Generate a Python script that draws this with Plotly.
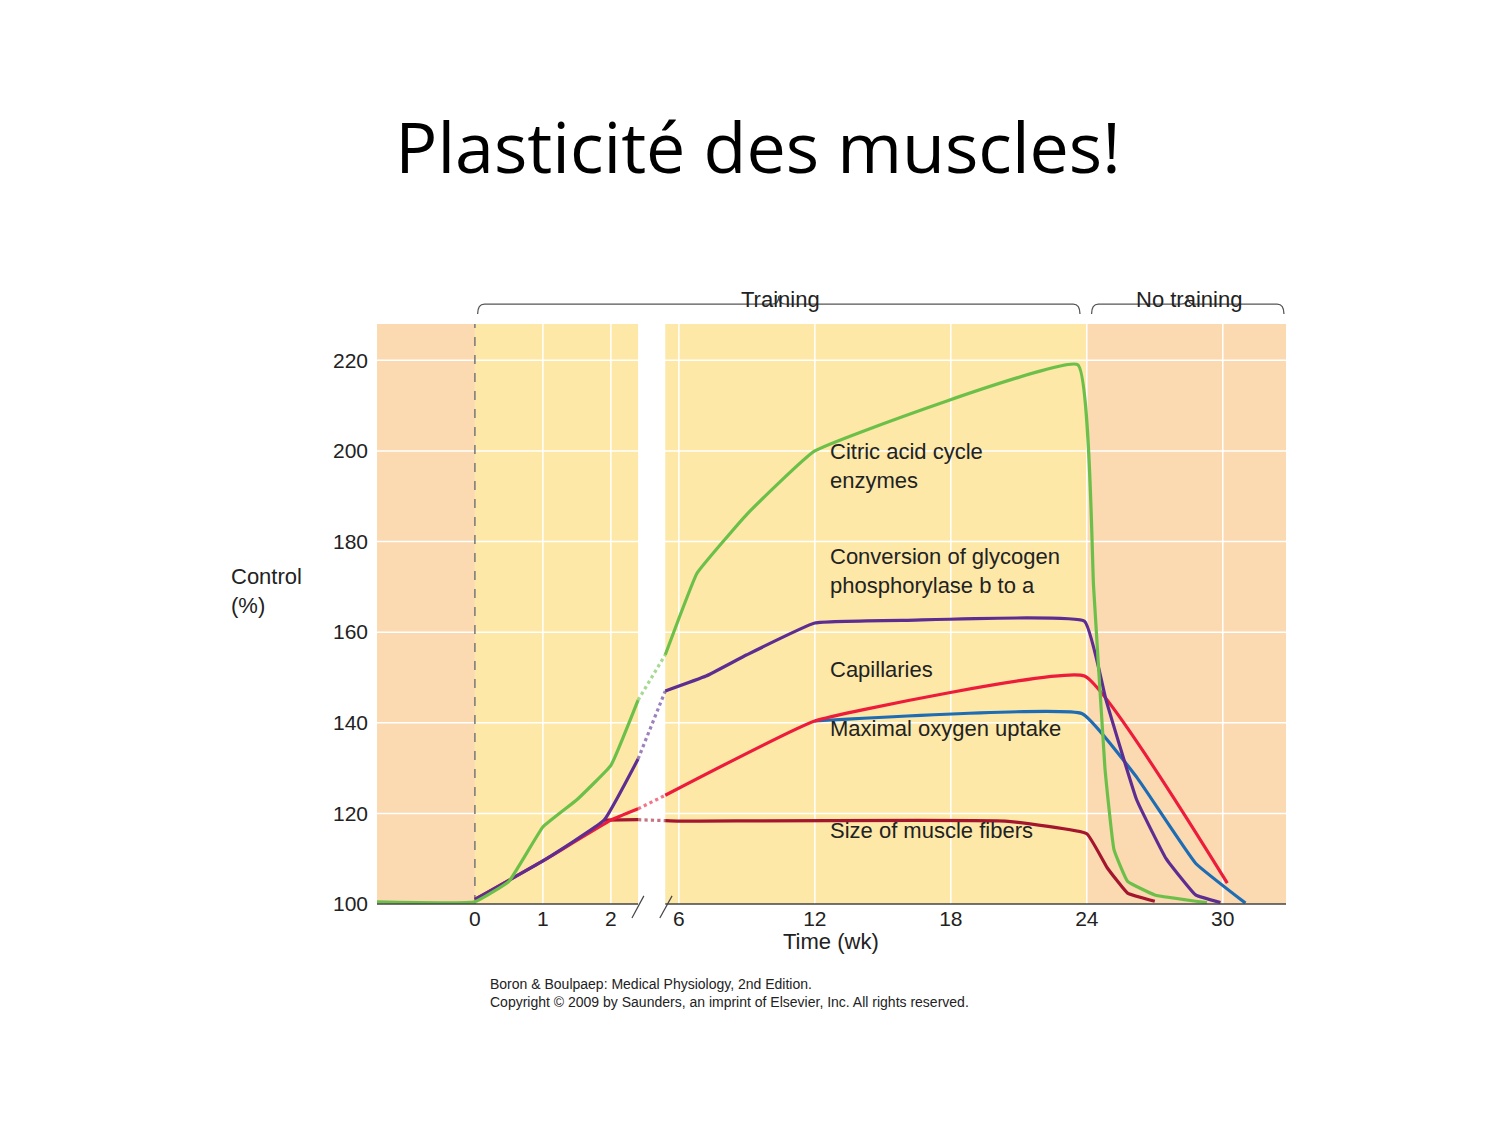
import plotly.graph_objects as go

# ---- data (weeks, % of control) ----
green_w = [-1.5, 0, 0.5, 1, 1.5, 2, 3.6, 5.2, 6, 6.8, 9, 12, 23.6, 24.3, 24.8, 25.2, 25.8, 27, 29.3]
green_y = [100.5, 100.5, 105, 117, 123, 130.6, 145, 155, 163, 173, 186, 200, 219, 170, 130, 112, 105, 102, 100.3]
purple_w = [0, 1, 1.9, 3.6, 5.2, 7.2, 9, 12, 16, 23.9, 24.85, 26.2, 27.5, 28.8, 29.9]
purple_y = [101, 109.5, 118.5, 132, 147, 150.3, 155, 162, 162.6, 162.4, 145, 123, 110, 102, 100.3]
red_w = [0, 1, 2, 3.6, 5.2, 12, 23.9, 30.2]
red_y = [101, 109.5, 118.5, 121, 124, 140.4, 150.3, 104.6]
blue_w = [12, 23.8, 26.2, 28.8, 31]
blue_y = [140.4, 142, 128, 109, 100.2]
dred_w = [1.9, 3.6, 5.2, 6, 20.4, 24, 24.9, 25.8, 27]
dred_y = [118.5, 118.6, 118.4, 118.3, 118.3, 115.5, 108, 102.4, 100.6]

tick_weeks = [0, 1, 2, 6, 12, 18, 24, 30]
y_ticks = [100, 120, 140, 160, 180, 200, 220]

GAP0, GAP1 = 3.6, 5.2

def to_u(w):
    if w <= 2:
        return w
    if w < 6:
        return 2 + (w - 2) / 4
    return 3 + (w - 6) / 3

fig = go.Figure()

def add_curve(ws, ys, color):
    segs = [[], [], []]
    for w, y in zip(ws, ys):
        if w <= GAP0:
            segs[0].append((w, y))
        if GAP0 <= w <= GAP1:
            segs[1].append((w, y))
        if w >= GAP1:
            segs[2].append((w, y))
    for i, s in enumerate(segs):
        if len(s) < 2:
            continue
        fig.add_trace(go.Scatter(
            x=[to_u(p[0]) for p in s], y=[p[1] for p in s], mode="lines",
            line=dict(color=color, width=3.2, dash="dot" if i == 1 else "solid", shape="spline", smoothing=0.3),
            opacity=0.6 if i == 1 else 1, hoverinfo="skip", showlegend=False, cliponaxis=False))

XL, XR = -1.44, 11.93
YB, YT = 100, 228

def px(u):
    return (u - XL) / (XR - XL)

def py(y):
    return (y - YB) / (YT - YB)

shapes = []
shapes.append(dict(type="rect", xref="x", yref="y", x0=XL, x1=0, y0=YB, y1=YT, fillcolor="#FBD9B1", line_width=0, layer="below"))
shapes.append(dict(type="rect", xref="x", yref="y", x0=0, x1=9, y0=YB, y1=YT, fillcolor="#FDE8A8", line_width=0, layer="below"))
shapes.append(dict(type="rect", xref="x", yref="y", x0=9, x1=XR, y0=YB, y1=YT, fillcolor="#FBD9B1", line_width=0, layer="below"))
for yv in y_ticks[1:]:
    shapes.append(dict(type="line", xref="x", yref="y", x0=XL, x1=XR, y0=yv, y1=yv, line=dict(color="white", width=1.5), layer="below"))
for w in tick_weeks[1:]:
    u = to_u(w)
    shapes.append(dict(type="line", xref="x", yref="y", x0=u, x1=u, y0=YB, y1=YT, line=dict(color="white", width=1.5), layer="below"))
shapes.append(dict(type="rect", xref="x", yref="y", x0=to_u(GAP0), x1=to_u(GAP1), y0=YB, y1=YT, fillcolor="white", line_width=0, layer="below"))
shapes.append(dict(type="line", xref="x", yref="y", x0=0, x1=0, y0=YB, y1=YT, line=dict(color="#777", width=1.5, dash="dash"), layer="below"))
shapes.append(dict(type="line", xref="paper", yref="paper", x0=0, x1=px(to_u(GAP0)), y0=0, y1=0, line=dict(color="#444", width=1.5)))
shapes.append(dict(type="line", xref="paper", yref="paper", x0=px(to_u(GAP1)), x1=1, y0=0, y1=0, line=dict(color="#444", width=1.5)))
for x0, x1 in [(2.31, 2.485), (2.72, 2.9)]:
    shapes.append(dict(type="line", xref="paper", yref="paper", x0=px(x0), x1=px(x1), y0=py(96.9), y1=py(101.8),
                       line=dict(color="#444", width=1.2)))

def brace(xa, xb, ylo=230.2, ytop=232.4, ypk=234.2):
    m = (xa + xb) / 2
    d = 0.1
    pts = lambda u, y: f"{px(u):.5f},{py(y):.5f}"
    p = (f"M {pts(xa,ylo)} Q {pts(xa,ytop)} {pts(xa+d,ytop)} L {pts(m-d,ytop)} Q {pts(m,ytop)} {pts(m,ypk)} "
         f"Q {pts(m,ytop)} {pts(m+d,ytop)} L {pts(xb-d,ytop)} Q {pts(xb,ytop)} {pts(xb,ylo)}")
    return dict(type="path", xref="paper", yref="paper", path=p, line=dict(color="#555", width=1.3))

shapes.append(brace(0.04, 8.9))
shapes.append(brace(9.07, 11.9))

add_curve(dred_w, dred_y, "#A3162E")
add_curve(blue_w, blue_y, "#1E6CB4")
add_curve(red_w, red_y, "#EC1C3A")
add_curve(purple_w, purple_y, "#5E2D91")
add_curve(green_w, green_y, "#6CC04A")

lab = dict(family="Liberation Sans, Arial", size=22, color="#222")
ann = []
def a(x, y, t, **kw):
    d = dict(xref="paper", yref="paper", x=px(x), y=py(y), text=t, showarrow=False, font=lab, xanchor="left", align="left")
    d.update(kw)
    ann.append(d)
a(5.2, 203, "Citric acid cycle<br>enzymes", yanchor="top")
a(5.2, 180, "Conversion of glycogen<br>phosphorylase b to a", yanchor="top")
a(5.2, 155, "Capillaries", yanchor="top")
a(5.2, 142, "Maximal oxygen uptake", yanchor="top")
a(5.2, 119.5, "Size of muscle fibers", yanchor="top")
a(4.5, 236.5, "Training", xanchor="center")
a(10.5, 236.5, "No training", xanchor="center")
a(to_u(12.7), 88.5, "Time (wk)", xanchor="center")
ann.append(dict(xref="paper", yref="paper", x=-0.163, y=0.54, text="Control<br>(%)", showarrow=False,
                font=lab, xanchor="left", align="left"))
ann.append(dict(xref="paper", yref="paper", x=0.122, y=-0.12, xanchor="left", yanchor="top", align="left",
                text="Boron & Boulpaep: Medical Physiology, 2nd Edition.<br>Copyright © 2009 by Saunders, an imprint of Elsevier, Inc. All rights reserved.",
                showarrow=False, font=dict(family="Liberation Sans, Arial", size=14, color="#222")))

fig.update_layout(
    width=1500, height=1125, paper_bgcolor="white", plot_bgcolor="white",
    margin=dict(l=369, r=222, t=316, b=229, autoexpand=False),
    title=dict(text="Plasticité des muscles!", x=0.5, xref="container", xanchor="center",
               y=1 - 140 / 1125, yref="container", yanchor="middle",
               font=dict(family="Open Sans, Noto Sans", size=70, color="black")),
    shapes=shapes, annotations=ann, showlegend=False,
    xaxis=dict(range=[XL, XR], tickvals=[to_u(w) for w in tick_weeks], ticktext=[str(w) for w in tick_weeks],
               showgrid=False, zeroline=False, showline=False, ticks="",
               tickfont=dict(family="Liberation Sans, Arial", size=21, color="#222")),
    yaxis=dict(range=[YB, YT], tickvals=y_ticks, showgrid=False, zeroline=False, showline=False, ticks="",
               ticklabelstandoff=8, tickfont=dict(family="Liberation Sans, Arial", size=21, color="#222")),
)
fig.write_html("out.html")
